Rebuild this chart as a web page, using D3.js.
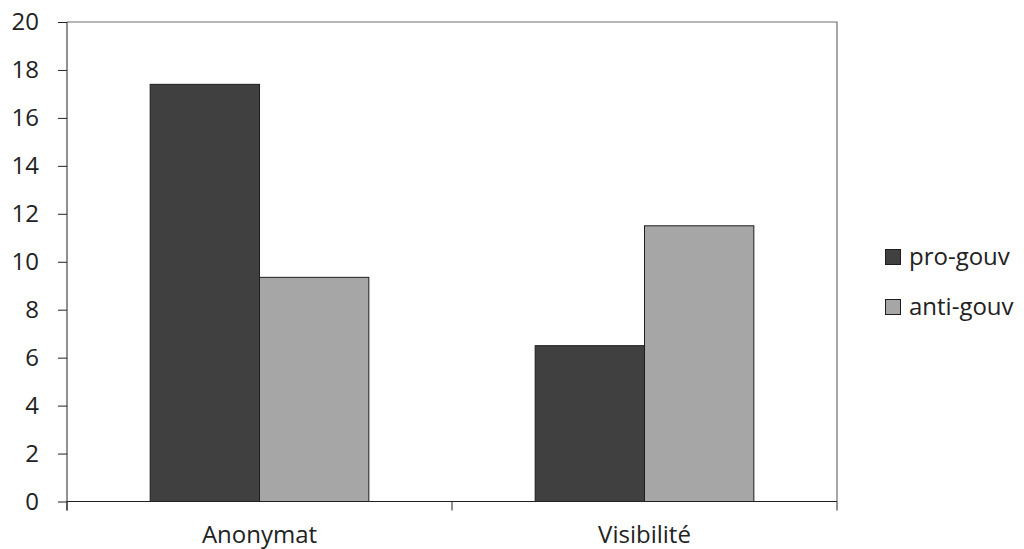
<!DOCTYPE html>
<html>
<head>
<meta charset="utf-8">
<script src="https://cdn.jsdelivr.net/npm/d3@7"></script>
<style>
  html, body { margin: 0; padding: 0; background: #fff; }
  svg text { font-family: "Open Sans", "Liberation Sans", sans-serif; fill: #222; }
</style>
</head>
<body>
<svg id="chart" width="1024" height="549"></svg>
<script>
// Categories, series and values
const categories = ["Anonymat", "Visibilité"];
const seriesNames = ["pro-gouv", "anti-gouv"];
const proGouv = [17.4, 6.5];
const antiGouv = [9.35, 11.5];
const yTicks = [0, 2, 4, 6, 8, 10, 12, 14, 16, 18, 20];
const seriesColors = ["#404040", "#a6a6a6"];

const values = [proGouv, antiGouv];
const rows = categories.map((c, i) => ({
  category: c,
  items: seriesNames.map((s, j) => ({ series: s, value: values[j][i], color: seriesColors[j] }))
}));

const svg = d3.select("#chart");
const plot = { left: 67, right: 837, top: 22, bottom: 501.5 };

const y = d3.scaleLinear().domain([0, 20]).range([plot.bottom, plot.top]);
const x0 = d3.scaleBand().domain(categories).range([plot.left, plot.right]).padding(0);
const x1 = d3.scaleBand().domain(seriesNames)
  .range([x0.bandwidth() * 0.216, x0.bandwidth() * 0.784]).padding(0);

// Plot frame (top and right edges)
svg.append("path")
  .attr("d", `M${plot.left},${plot.top}H${plot.right}V${plot.bottom}`)
  .attr("fill", "none").attr("stroke", "#6e6e6e").attr("stroke-width", 1.2);

// Bars
const groups = svg.append("g").selectAll("g").data(rows).join("g")
  .attr("transform", d => `translate(${x0(d.category)},0)`);
groups.selectAll("rect").data(d => d.items).join("rect")
  .attr("x", d => x1(d.series))
  .attr("y", d => y(d.value))
  .attr("width", x1.bandwidth())
  .attr("height", d => y(0) - y(d.value))
  .attr("fill", d => d.color)
  .attr("stroke", "#1e1e1e").attr("stroke-width", 1);

// Y axis
const yAxis = svg.append("g").attr("transform", `translate(${plot.left},0)`)
  .call(d3.axisLeft(y).tickValues(yTicks).tickSize(9).tickPadding(19).tickSizeOuter(0));
yAxis.select(".domain").attr("stroke", "#222").attr("d", `M0,${plot.top}V${plot.bottom + 9}`);
yAxis.selectAll(".tick line").attr("stroke", "#222");
yAxis.selectAll(".tick text").attr("font-size", 24).attr("fill", "#222")
  .attr("font-family", "'Open Sans', sans-serif");

// X axis with boundary ticks between categories
const xAxisG = svg.append("g").attr("transform", `translate(0,${plot.bottom})`);
xAxisG.append("path").attr("d", `M${plot.left},0H${plot.right}`).attr("stroke", "#222").attr("fill", "none");
const bounds = [plot.left, ...categories.map(c => x0(c) + x0.bandwidth())];
xAxisG.selectAll("line.bt").data(bounds).join("line").attr("class", "bt")
  .attr("x1", d => d).attr("x2", d => d).attr("y1", 0).attr("y2", 9)
  .attr("stroke", "#222");
xAxisG.selectAll("text").data(categories).join("text")
  .attr("x", d => x0(d) + x0.bandwidth() / 2)
  .attr("y", 41)
  .attr("text-anchor", "middle")
  .attr("font-size", 24)
  .text(d => d);

// Legend
const legend = svg.append("g").attr("transform", "translate(885,249)");
const li = legend.selectAll("g").data(seriesNames).join("g")
  .attr("transform", (d, i) => `translate(0,${i * 50})`);
li.append("rect").attr("x", 0.5).attr("y", 0.5).attr("width", 15).attr("height", 15)
  .attr("fill", (d, i) => seriesColors[i]).attr("stroke", "#1e1e1e").attr("stroke-width", 1);
li.append("text").attr("x", 24).attr("y", 8).attr("dy", "0.35em")
  .attr("font-size", 24).text(d => d);
</script>
</body>
</html>
